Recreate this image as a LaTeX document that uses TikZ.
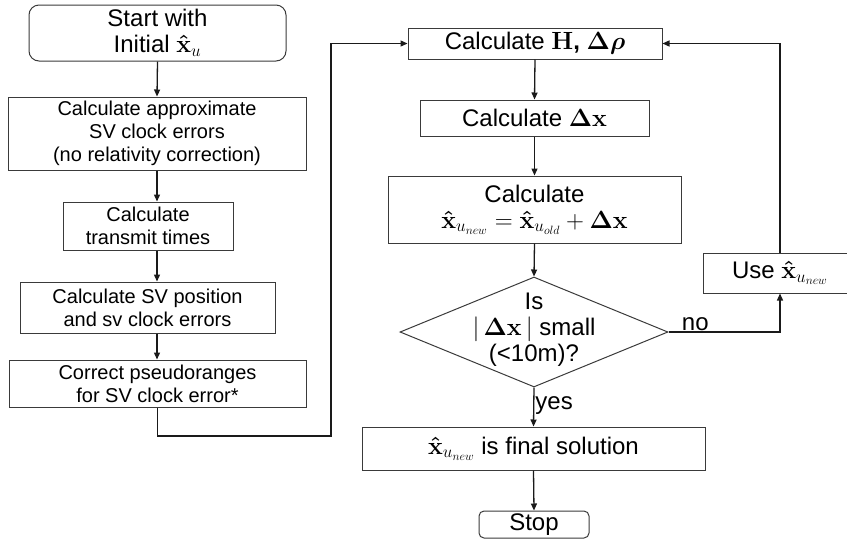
\documentclass[tikz,border=0pt]{standalone}
\usepackage{amsmath,bm}
\usepackage[no-math]{fontspec}
\setmainfont{Liberation Sans}
\usetikzlibrary{arrows.meta, shapes.geometric}
\definecolor{cline}{HTML}{1A1A1A}
\definecolor{cframe}{HTML}{3A3A3A}
\newcommand{\bigtxt}{\fontsize{24}{26}\selectfont}
\newcommand{\midtxt}{\fontsize{20}{23}\selectfont}
\newcommand{\xh}{\bm{\hat{\mathbf{x}}}}
\tikzset{
  every picture/.style={line width=1pt},
  box/.style={draw=cframe, rectangle, align=center, inner sep=2pt, font=\midtxt},
  term/.style={box, rounded corners=#1},
  term/.default=10pt,
  decision/.style={draw=cframe, diamond, inner sep=0pt},
  arrow/.style={-{Triangle[length=7pt, width=6pt]}, draw=cline, line width=1.3pt},
  tag/.style={font=\bigtxt, inner sep=1pt},
}

\begin{document}
\begin{tikzpicture}[x=1pt, y=-1pt]
  \useasboundingbox (0,0) rectangle (847,542);
  % left column
  \node[term, minimum width=257pt, minimum height=56pt, font=\bigtxt] (start) at (157.5,33) {Start with\\Initial $\xh_u$};
  \node[box, minimum width=298pt, minimum height=73pt] (approx) at (157,133.5) {Calculate approximate\\SV clock errors\\(no relativity correction)};
  \node[box, minimum width=170pt, minimum height=48pt] (transmit) at (148,226) {Calculate\\transmit times};
  \node[box, minimum width=255pt, minimum height=51pt] (svpos) at (147.5,307.5) {Calculate SV position\\and sv clock errors};
  \node[box, minimum width=297pt, minimum height=47pt] (correct) at (157.5,383.5) {Correct pseudoranges\\for SV clock error*};
  % right column
  \node[box, minimum width=254pt, minimum height=31pt, font=\bigtxt] (calcH) at (535,43.5) {Calculate $\mathbf{H}$\textbf{,} $\bm{\Delta\rho}$};
  \node[box, minimum width=229pt, minimum height=36pt, font=\bigtxt] (calcdx) at (534.5,118) {Calculate $\bm{\Delta}\mathbf{x}$};
  \node[box, minimum width=293pt, minimum height=67pt, font=\bigtxt] (update) at (534.5,209.5) {Calculate\\$\xh_{u_{new}} = \xh_{u_{old}} + \bm{\Delta}\mathbf{x}$};
  \node[decision, minimum width=268pt, minimum height=110pt] (dec) at (534,332) {};
  \node[font=\bigtxt, align=center, inner sep=0pt] (dectext) at (534,330) {Is\\$|\,\bm{\Delta}\mathbf{x}\,|$ small\\(<10m)?};
  \node[box, minimum width=343pt, minimum height=43pt, font=\bigtxt] (final) at (533.5,448.5) {$\xh_{u_{new}}$ is final solution};
  \node[term=5pt, minimum width=110pt, minimum height=27pt, font=\bigtxt] (stop) at (534,524.5) {Stop};
  \node[box, minimum width=154pt, minimum height=40pt, font=\bigtxt] (use) at (780,273) {Use $\xh_{u_{new}}$};
  \coordinate (bend) at (331,436);
  % flow
  \draw[arrow] (start.south) -- (approx.north);
  \draw[arrow] (approx.south) -- (approx.south |- transmit.north);
  \draw[arrow] (approx.south |- transmit.south) -- (approx.south |- svpos.north);
  \draw[arrow] (approx.south |- svpos.south) -- (approx.south |- correct.north);
  \draw[arrow] (correct.south) |- (bend) |- (calcH.west);
  \draw[arrow] (calcH.south) -- (calcdx.north);
  \draw[arrow] (calcdx.south) -- (update.north);
  \draw[arrow] (update.south) -- (dec.north);
  \draw[arrow] (dec.south) -- node[tag, right, pos=0.45] {yes} (final.north);
  \draw[arrow] (final.south) -- (stop.north);
  \draw[arrow] (dec.east) -| node[tag, pos=0.12, anchor=south] {no} (use.south);
  \draw[arrow] (use.north) |- (calcH.east);
\end{tikzpicture}
\end{document}
